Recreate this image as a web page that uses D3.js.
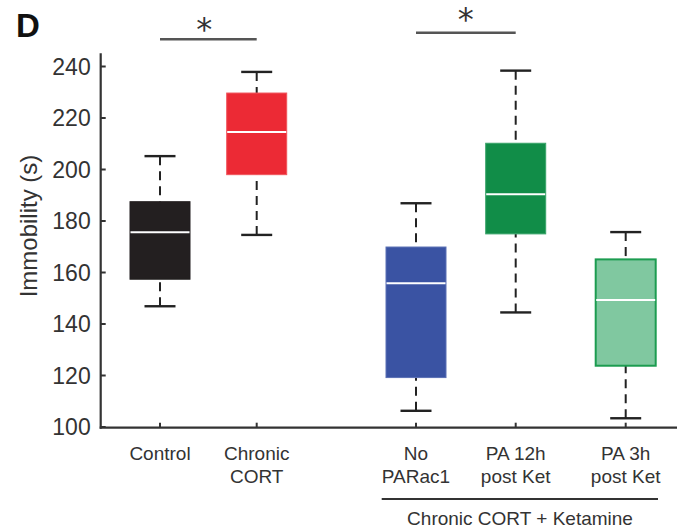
<!DOCTYPE html>
<html>
<head>
<meta charset="utf-8">
<script src="https://cdn.jsdelivr.net/npm/d3@7"></script>
<style>
  html, body { margin: 0; padding: 0; background: #fff; }
  svg { display: block; font-family: "Liberation Sans", Arial, Helvetica, sans-serif; }
</style>
</head>
<body>
<svg id="chart" width="677" height="530"></svg>
<script>
// ---- data ----
const categories = ["Control", "Chronic CORT", "No PARac1", "PA 12h post Ket", "PA 3h post Ket"];
const categoryLines = [["Control"], ["Chronic", "CORT"], ["No", "PARac1"], ["PA 12h", "post Ket"], ["PA 3h", "post Ket"]];
const whiskerHigh = [205, 237.7, 186.7, 238.2, 175.5];
const q3 = [187.3, 229.5, 169.7, 210, 164.9];
const medians = [175.4, 214.4, 155.6, 190.2, 149.1];
const q1 = [157.2, 197.8, 119, 174.8, 123.6];
const whiskerLow = [146.7, 174.4, 106.1, 144.3, 103.2];
const yTicks = [100, 120, 140, 160, 180, 200, 220, 240];
const boxFill = ["#231f20", "#ec2a35", "#3a53a3", "#118d48", "#80c8a0"];
const boxStroke = ["#231f20", "#f0555c", "#5a70b5", "#3aa46a", "#1c9c50"];
const significance = [["Control", "Chronic CORT"], ["No PARac1", "PA 12h post Ket"]];
const groupLabel = "Chronic CORT + Ketamine";

const svg = d3.select("#chart");

const y = d3.scaleLinear().domain([100, 240]).range([426.5, 66]);
const x = d3.scaleOrdinal().domain(categories).range([160, 256.7, 416, 515.7, 625.7]);

const axisX = 100.7, axisY = 427.7;

// Y axis
const yAxis = d3.axisLeft(y).tickValues(yTicks).tickSize(-5).tickPadding(10).tickSizeOuter(0);
const gy = svg.append("g").attr("transform", `translate(${axisX},0)`).call(yAxis);
gy.select(".domain").remove();
gy.selectAll(".tick line").attr("stroke", "#333").attr("stroke-width", 2);
gy.selectAll(".tick text").attr("font-size", 23).attr("fill", "#333")
  .attr("font-family", "Liberation Sans, Arial, sans-serif").attr("dy", "0.36em");

svg.append("line").attr("x1", axisX).attr("x2", axisX).attr("y1", y(245)).attr("y2", axisY + 1)
  .attr("stroke", "#333").attr("stroke-width", 2.2);

// X axis
svg.append("line").attr("x1", axisX - 1).attr("x2", 677).attr("y1", axisY).attr("y2", axisY)
  .attr("stroke", "#333").attr("stroke-width", 2.2);
svg.selectAll(".xtick").data(categories).enter().append("line")
  .attr("x1", d => x(d)).attr("x2", d => x(d)).attr("y1", axisY).attr("y2", axisY - 5)
  .attr("stroke", "#333").attr("stroke-width", 2);

// category labels
categories.forEach((c, i) => {
  const t = svg.append("text").attr("x", x(c)).attr("y", 460).attr("text-anchor", "middle")
    .attr("font-size", 19).attr("fill", "#333");
  categoryLines[i].forEach((ln, j) => {
    t.append("tspan").attr("x", x(c)).attr("dy", j === 0 ? 0 : 22.7).text(ln);
  });
});

// boxes
const boxW = 60, capW = 31;
categories.forEach((c, i) => {
  const cx = x(c);
  const g = svg.append("g");
  // whiskers
  g.append("line").attr("x1", cx).attr("x2", cx).attr("y1", y(whiskerHigh[i])).attr("y2", y(q3[i]))
    .attr("stroke", "#222").attr("stroke-width", 2).attr("stroke-dasharray", "9,6");
  g.append("line").attr("x1", cx).attr("x2", cx).attr("y1", y(whiskerLow[i])).attr("y2", y(q1[i]))
    .attr("stroke", "#222").attr("stroke-width", 2).attr("stroke-dasharray", "9,6");
  // caps
  g.append("line").attr("x1", cx - capW / 2).attr("x2", cx + capW / 2)
    .attr("y1", y(whiskerHigh[i])).attr("y2", y(whiskerHigh[i])).attr("stroke", "#222").attr("stroke-width", 2.4);
  g.append("line").attr("x1", cx - capW / 2).attr("x2", cx + capW / 2)
    .attr("y1", y(whiskerLow[i])).attr("y2", y(whiskerLow[i])).attr("stroke", "#222").attr("stroke-width", 2.4);
  // box
  g.append("rect").attr("x", cx - boxW / 2).attr("width", boxW)
    .attr("y", y(q3[i])).attr("height", y(q1[i]) - y(q3[i]))
    .attr("fill", boxFill[i]).attr("stroke", boxStroke[i]).attr("stroke-width", i === 4 ? 2 : 1);
  // median
  g.append("line").attr("x1", cx - boxW / 2 + 0.5).attr("x2", cx + boxW / 2 - 0.5)
    .attr("y1", y(medians[i])).attr("y2", y(medians[i])).attr("stroke", "#fff").attr("stroke-width", 2);
});

// significance bars
const sigY = [39.3, 32.7];
const starY = [39.8, 29.9];
const starDx = [-4, 0];
significance.forEach((pair, k) => {
  const x1 = x(pair[0]), x2 = x(pair[1]);
  svg.append("line").attr("x1", x1).attr("x2", x2).attr("y1", sigY[k]).attr("y2", sigY[k])
    .attr("stroke", "#555").attr("stroke-width", 2.5);
  svg.append("text").attr("x", (x1 + x2) / 2 + starDx[k]).attr("y", starY[k]).attr("text-anchor", "middle")
    .attr("font-family", "DejaVu Sans, sans-serif")
    .attr("font-size", 32).attr("fill", "#333").text("*");
});

// group bracket
svg.append("line").attr("x1", 381.7).attr("x2", 658).attr("y1", 499).attr("y2", 499)
  .attr("stroke", "#333").attr("stroke-width", 2);
svg.append("text").attr("x", 520).attr("y", 525).attr("text-anchor", "middle")
  .attr("font-size", 19).attr("fill", "#333").text(groupLabel);

// y label
svg.append("text").attr("transform", "translate(37,226) rotate(-90)").attr("text-anchor", "middle")
  .attr("font-size", 24).attr("fill", "#333").text("Immobility (s)");

// panel letter
svg.append("text").attr("x", 16).attr("y", 37).attr("font-size", 33).attr("font-weight", "bold")
  .attr("fill", "#111").text("D");
</script>
</body>
</html>
